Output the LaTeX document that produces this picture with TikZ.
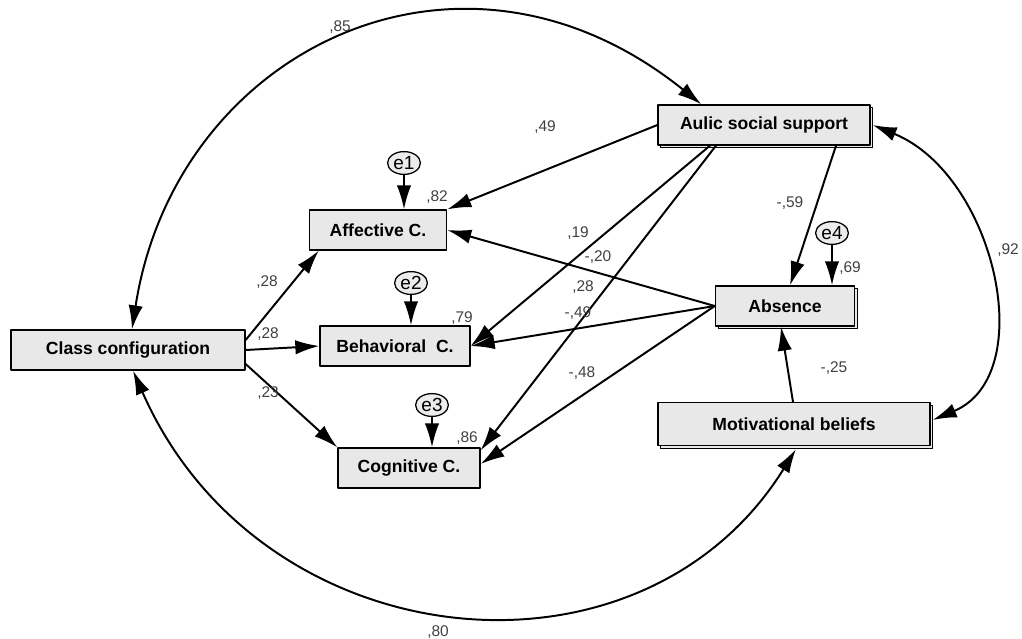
\documentclass[tikz,border=0pt]{standalone}
\usepackage{fontspec}
\setmainfont{Liberation Sans}
\usetikzlibrary{%
  arrows.meta,%
  calc,%
  shapes.geometric,% ellipse
  shadows% copy shadow
}

\begin{document}
\begin{tikzpicture}[
    x=0.025cm,y=-0.025cm,
    >={Latex[length=6mm,width=3.6mm]},
    line width=1.4pt,line join=round,
    var/.style={rectangle,draw=black,fill=gray!18,line width=0.9pt,
        minimum height=1cm,inner sep=2pt,
        font=\fontsize{12.5}{14}\selectfont\bfseries},
    shadowed/.style={copy shadow={shadow xshift=2pt,shadow yshift=-2pt,
        draw=black,fill=gray!18}},
    err/.style={ellipse,draw=black,fill=gray!15,line width=0.9pt,
        minimum width=0.82cm,minimum height=0.57cm,inner sep=0pt,
        font=\fontsize{13.5}{14}\selectfont},
    coef/.style={font=\fontsize{11}{13}\selectfont,text=black!75,inner sep=1pt}
  ]
    \useasboundingbox (0,0) rectangle (1022,639);

    % observed variables
    \node[var,minimum width=5.85cm] (cls)   at (128,350) {Class configuration};
    \node[var,minimum width=3.43cm] (aff)   at (378,230) {Affective C.};
    \node[var,minimum width=3.75cm] (beh)   at (395,346) {Behavioral\ \ C.};
    \node[var,minimum width=3.55cm] (cog)   at (409,468) {Cognitive C.};
    \node[var,shadowed,minimum width=5.3cm]  (aulic) at (764,125) {Aulic social support};
    \node[var,shadowed,minimum width=3.48cm] (abs)   at (785,306) {Absence};
    \node[var,shadowed,minimum width=6.8cm,minimum height=1.07cm] (mot) at (794,424) {Motivational beliefs};

    % errors
    \node[err] (e1) at (404,163) {e1};
    \node[err] (e2) at (411,283) {e2};
    \node[err] (e3) at (432,405) {e3};
    \node[err] (e4) at (832,233) {e4};

    \draw[->] (e1) -- (e1 |- aff.north);
    \draw[->] (e2) -- (e2 |- beh.north);
    \draw[->] (e3) -- (e3 |- cog.north);
    \draw[->] (e4) -- (e4 |- abs.north);

    % paths
    \draw[->] ($(cls.east)+(0,-10)$) -- ($(aff.south west)+(10,0)$);
    \draw[->] (cls.east) -- (beh.west);
    \draw[->] ($(cls.east)+(0,14)$) -- (cog.north west);

    \draw[->] (aulic.west) -- (aff.north east);
    \draw[->] ($(aulic.south)+(-54,0)$) -- (beh.east);
    \draw[->] ($(aulic.south)+(-48,0)$) -- ($(cog.north east)+(0,3)$);
    \draw[->] ($(aulic.south)+(72,0)$) -- ($(abs.north)+(5,0)$);

    \draw[->] (abs.west) -- (aff.east);
    \draw[->] (abs.west) -- (beh.east);
    \draw[->] (abs.west) -- ($(cog.east)+(0,-4)$);
    \draw[->] ($(mot.north)+(-1,0)$) -- ($(abs.south)+(-4,0)$);

    % covariances
    \draw[<->] ($(cls.north)+(4,0)$) .. controls (175,50) and (460,-90) .. ($(aulic.north west)+(44,0)$);
    \draw[<->] ($(cls.south)+(5,0)$) .. controls (260,660) and (640,700) .. ($(mot.south)+(2,3)$);
    \draw[<->] ($(aulic.east)+(2,0)$) .. controls (995,175) and (1040,375) .. ($(mot.east)+(2,-4)$);

    % coefficients
    \node[coef] (c85)  at (340,27)  {,85};
    \node[coef] (c49)  at (545,127) {,49};
    \node[coef] (c82)  at (437,197) {,82};
    \node[coef] (c19)  at (578,233) {,19};
    \node[coef] (c20)  at (598,257) {-,20};
    \node[coef] (c28b) at (583,287) {,28};
    \node[coef] (c49b) at (578,313) {-,49};
    \node[coef] (c48)  at (582,373) {-,48};
    \node[coef] (c28)  at (267,282) {,28};
    \node[coef] (c28a) at (268,334) {,28};
    \node[coef] (c23)  at (268,393) {,23};
    \node[coef] (c79)  at (462,318) {,79};
    \node[coef] (c86)  at (467,438) {,86};
    \node[coef] (c59)  at (790,203) {-,59};
    \node[coef] (c69)  at (850,268) {,69};
    \node[coef] (c92)  at (1008,250) {,92};
    \node[coef] (c25)  at (834,368) {-,25};
    \node[coef] (c80)  at (438,632) {,80};
\end{tikzpicture}
\end{document}
